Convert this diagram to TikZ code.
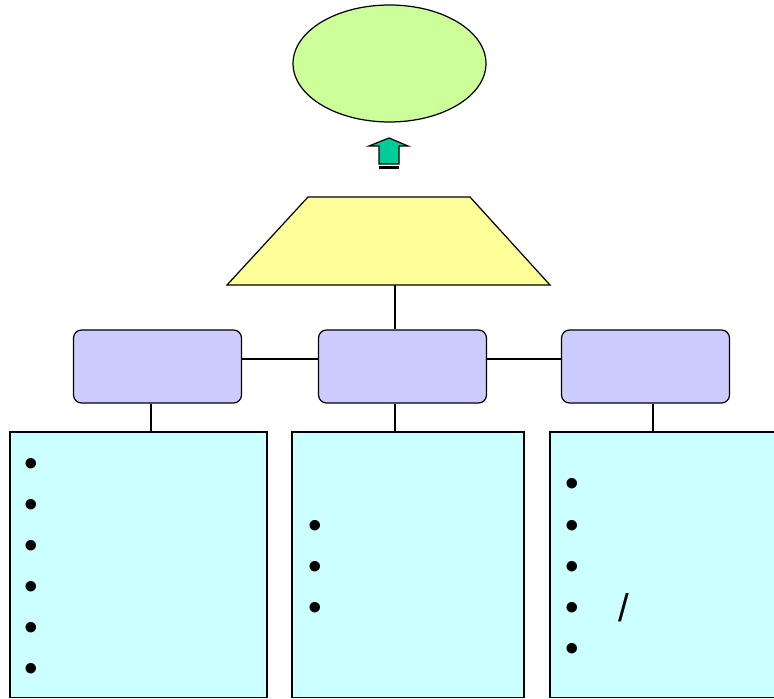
\documentclass[tikz,border=0pt]{standalone}
\usepackage{fontspec}
\setmainfont{Liberation Sans}
\usetikzlibrary{shapes.geometric}
\definecolor{goalgreen}{HTML}{CCFF99}
\definecolor{baseyellow}{HTML}{FFFF99}
\definecolor{topicblue}{HTML}{CCCCFF}
\definecolor{listcyan}{HTML}{CCFFFF}
\definecolor{arrowteal}{HTML}{00CC99}
\tikzset{
  topic/.style={draw, fill=topicblue, rounded corners=0.16cm, minimum width=3.36cm, minimum height=1.46cm, inner sep=0pt},
  listbox/.style={draw, fill=listcyan, minimum height=5.31cm, inner sep=0pt},
  dot/.style={inner sep=0pt, font=\fontsize{22}{22}\selectfont},
}
\begin{document}
\begin{tikzpicture}[x=0.02cm, y=-0.02cm, line width=0.7pt]
    \useasboundingbox (0,0) rectangle (774,699);
    % Goal
    \node[draw, fill=goalgreen, ellipse, minimum width=3.86cm, minimum height=2.34cm, inner sep=0pt] (goal) at (389.5,63.5) {};
    
    % Up arrow
    \filldraw[fill=arrowteal] (389,138) -- (408,146) -- (399,146) -- (399,164) -- (379,164) -- (379,146) -- (369,146) -- cycle;
    \draw[line width=1.2pt] (379,167.5) -- (399,167.5);
    
    % Base
    \filldraw[fill=baseyellow] (227,285) -- (308,197) -- (470,197) -- (550,285) -- cycle;
    \coordinate (base) at (395,285);
    
    % Topics
    \node[topic] (left) at (157.5,366.5) {};
    \node[topic] (mid) at (402.5,366.5) {};
    \node[topic] (right) at (645.5,366.5) {};
    \draw (base) -- (base |- mid.north);
    \draw ([yshift=0.15cm]left.east) -- ([yshift=0.15cm]mid.west);
    \draw ([yshift=0.15cm]mid.east) -- ([yshift=0.15cm]right.west);
    
    % Lists
    \node[listbox, minimum width=5.14cm] (leftlist) at (138.5,564.75) {};
    \node[listbox, minimum width=4.64cm] (midlist) at (408,564.75) {};
    \node[listbox, minimum width=4.64cm] (rightlist) at (666,564.75) {};
    \coordinate (dl) at ([xshift=-0.13cm]left.south);
    \coordinate (dm) at ([xshift=-0.15cm]mid.south);
    \coordinate (dr) at ([xshift=0.15cm]right.south);
    \draw (dl) -- (dl |- leftlist.north);
    \draw (dm) -- (dm |- midlist.north);
    \draw (dr) -- (dr |- rightlist.north);
    
    % Bullets
    \foreach \y [count=\i] in {467,508,549,590,631,672}
        \node[dot] (lb\i) at (31,\y) {•};
    \foreach \y [count=\i] in {529,570,611}
        \node[dot] (mb\i) at (315,\y) {•};
    \foreach \y [count=\i] in {487,529,570,611,652}
        \node[dot] (rb\i) at (572,\y) {•};
    \node[dot] (slash) at (624,607.5) {/};
\end{tikzpicture}
\end{document}
